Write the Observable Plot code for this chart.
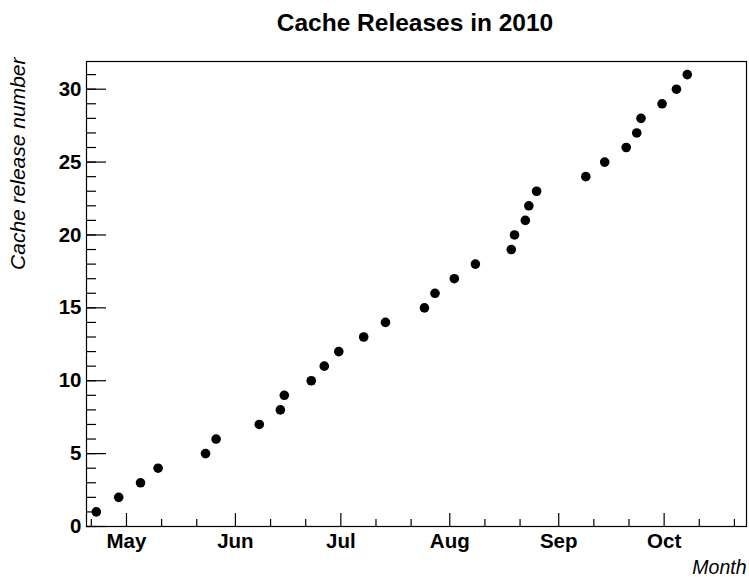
<!DOCTYPE html>
<html>
<head>
<meta charset="utf-8">
<script src="https://cdn.jsdelivr.net/npm/d3@7"></script>
<script src="https://cdn.jsdelivr.net/npm/@observablehq/plot@0.6"></script>
<style>
  html, body { margin: 0; padding: 0; background: #fff; }
  #wrap { width: 749px; height: 577px; font-family: "Liberation Sans", Arial, sans-serif; }
  #title { height: 39px; padding-top: 9px; padding-left: 81px; line-height: 28px; text-align: center;
           font-size: 24.5px; font-weight: bold; color: #000; box-sizing: content-box; white-space: nowrap; }
  svg { display: block; font-family: "Liberation Sans", Arial, sans-serif; }
</style>
</head>
<body>
<div id="wrap"><div id="title">Cache Releases in 2010</div><div id="chart"></div></div>
<script>
// Release number and release date
const releaseNumbers = [1, 2, 3, 4, 5, 6, 7, 8, 9, 10, 11, 12, 13, 14, 15, 16,
  17, 18, 19, 20, 21, 22, 23, 24, 25, 26, 27, 28, 29, 30, 31];
const releaseDates = [
  "2010-04-22 10:00", "2010-04-28 19:00", "2010-05-05 00:00", "2010-05-10 00:00",
  "2010-05-23 12:00", "2010-05-26 12:00", "2010-06-07 19:00", "2010-06-13 19:00",
  "2010-06-14 22:00", "2010-06-22 14:00", "2010-06-26 07:00", "2010-06-30 10:00",
  "2010-07-07 12:00", "2010-07-13 17:00", "2010-07-24 19:00", "2010-07-27 19:00",
  "2010-08-02 07:00", "2010-08-08 07:00", "2010-08-18 12:00", "2010-08-19 10:00",
  "2010-08-22 12:00", "2010-08-23 12:00", "2010-08-25 17:00", "2010-09-08 17:00",
  "2010-09-14 02:00", "2010-09-20 05:00", "2010-09-23 05:00", "2010-09-24 10:00",
  "2010-09-30 10:00", "2010-10-04 12:00", "2010-10-07 14:00"
];
// Axis range and ticks
const xRange = ["2010-04-19 15:00", "2010-10-24 10:30"];
const monthTicks = ["2010-05-01 00:00", "2010-06-01 00:00", "2010-07-01 00:00",
  "2010-08-01 00:00", "2010-09-01 00:00", "2010-10-01 00:00"];
const monthLabels = ["May", "Jun", "Jul", "Aug", "Sep", "Oct"];
const minorXTicks = ["2010-04-21 00:00", "2010-05-11 00:00", "2010-05-21 00:00",
  "2010-06-11 00:00", "2010-06-21 00:00", "2010-07-11 00:00", "2010-07-21 00:00",
  "2010-08-11 00:00", "2010-08-21 00:00", "2010-09-11 00:00", "2010-09-21 00:00",
  "2010-10-11 00:00", "2010-10-21 00:00"];
const yRange = [0, 31.9];
const yMajorTicks = [0, 5, 10, 15, 20, 25, 30];
const yMinorTicks = [0,1,2,3,4,5,6,7,8,9,10,11,12,13,14,15,16,17,18,19,20,21,22,23,24,25,26,27,28,29,30,31];

const parse = d3.utcParse("%Y-%m-%d %H:%M");
const data = releaseNumbers.map((n, i) => ({date: parse(releaseDates[i]), n}));
const mTicks = monthTicks.map(parse);
const labelOf = new Map(mTicks.map((d, i) => [+d, monthLabels[i]]));

const chart = Plot.plot({
  width: 749,
  height: 529,
  marginTop: 13,
  marginLeft: 86,
  marginRight: 3,
  marginBottom: 51,
  style: {fontFamily: "Liberation Sans, Arial, sans-serif", color: "#000", background: "#fff", overflow: "visible"},
  x: {type: "utc", domain: xRange.map(parse)},
  y: {domain: yRange},
  marks: [
    Plot.frame({stroke: "#000", strokeWidth: 1.2}),
    // y ticks (inward)
    Plot.axisY({anchor: "left", ticks: yMinorTicks, tickSize: -10, tickFormat: () => "", label: null, strokeWidth: 1.2}),
    Plot.axisY({anchor: "left", ticks: yMajorTicks, tickSize: -20, tickFormat: () => "", label: null, strokeWidth: 1.2}),
    Plot.axisY({anchor: "left", ticks: yMajorTicks, tickSize: 0, tickPadding: 5, label: null,
      fontSize: 20.5, fontWeight: "bold", tickFormat: d3.format("d")}),
    // x ticks (inward)
    Plot.axisX({anchor: "bottom", ticks: minorXTicks.map(parse), tickSize: -7, tickFormat: () => "", label: null, strokeWidth: 1.2}),
    Plot.axisX({anchor: "bottom", ticks: mTicks, tickSize: -13, tickFormat: () => "", label: null, strokeWidth: 1.2}),
    Plot.axisX({anchor: "bottom", ticks: mTicks, tickSize: 0, tickPadding: 7, label: null,
      fontSize: 20.5, fontWeight: "bold", tickFormat: d => labelOf.get(+d)}),
    // axis titles
    Plot.text(["Cache release number"], {frameAnchor: "top-left", text: d => d, rotate: -90,
      textAnchor: "end", lineAnchor: "middle", dx: -68.5, dy: -4, fontSize: 21, fontStyle: "italic", fill: "#000"}),
    Plot.text(["Month"], {frameAnchor: "bottom-right", text: d => d, textAnchor: "end",
      lineAnchor: "bottom", dy: 47, fontSize: 19.5, fontStyle: "italic", fill: "#000"}),
    // data
    Plot.dot(data, {x: "date", y: "n", r: 4.8, fill: "#000", stroke: "none"})
  ]
});
document.getElementById("chart").appendChild(chart);
</script>
</body>
</html>
